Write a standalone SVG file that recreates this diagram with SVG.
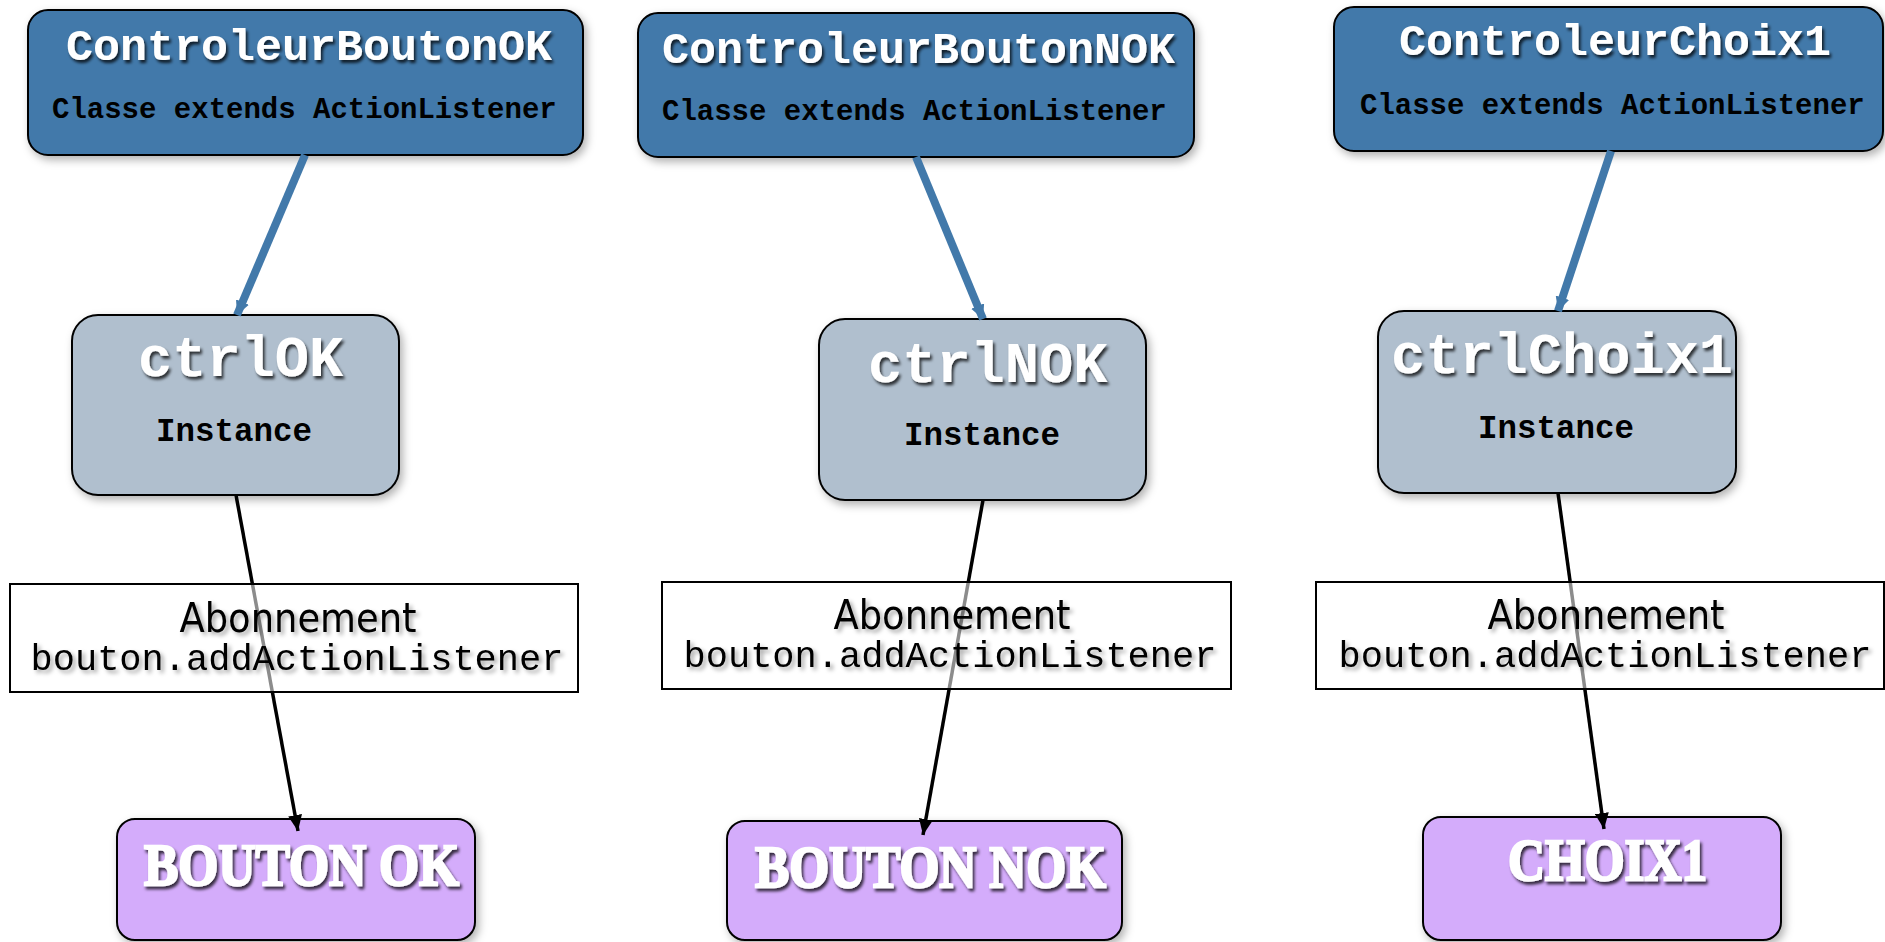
<svg xmlns="http://www.w3.org/2000/svg" width="1885" height="942" viewBox="0 0 1885 942">
  <defs>
    <filter id="boxShadow" x="-10%" y="-10%" width="125%" height="130%">
      <feDropShadow dx="3" dy="4" stdDeviation="4" flood-color="#000" flood-opacity="0.3"/>
    </filter>
    <filter id="titleShadow" x="-5%" y="-20%" width="115%" height="150%">
      <feDropShadow dx="2" dy="3" stdDeviation="1.6" flood-color="#000" flood-opacity="0.75"/>
    </filter>
    <filter id="labelShadow" x="-5%" y="-20%" width="115%" height="150%">
      <feDropShadow dx="3" dy="3" stdDeviation="2" flood-color="#000" flood-opacity="0.35"/>
    </filter>
    <marker id="headBlue" markerUnits="userSpaceOnUse" markerWidth="14" markerHeight="14" viewBox="0 0 14 14" refX="14" refY="7" orient="auto">
      <path d="M0,0 L14,7 L0,14 z" fill="#4279aa"/>
    </marker>
    <marker id="headBlack" markerUnits="userSpaceOnUse" markerWidth="16" markerHeight="14" viewBox="0 0 16 14" refX="16" refY="7" orient="auto">
      <path d="M0,0 L16,7 L0,14 z" fill="#000"/>
    </marker>
  </defs>
  <style>
    .cls { fill: #4279aa; stroke: #000; stroke-width: 2; filter: url(#boxShadow); }
    .inst { fill: #b0bfce; stroke: #000; stroke-width: 2; filter: url(#boxShadow); }
    .btn { fill: #d4acfb; stroke: #000; stroke-width: 2; filter: url(#boxShadow); }
    .lbl { fill: #fff; fill-opacity: 0.55; stroke: #000; stroke-width: 2; }
    .title { font-family: "Liberation Mono", "Courier New", monospace; font-weight: bold; fill: #fff; filter: url(#titleShadow); }
    .t45 { font-size: 45px; }
    .t57 { font-size: 57px; }
    .sub { font-family: "Liberation Mono", "Courier New", monospace; font-weight: bold; font-size: 29px; fill: #000; }
    .instTxt { font-family: "Liberation Mono", "Courier New", monospace; font-weight: bold; font-size: 32.5px; fill: #000; }
    .abo { font-family: "DejaVu Sans Condensed", "Liberation Sans", Arial, sans-serif; font-stretch: condensed; font-size: 41px; fill: #000; text-anchor: middle; filter: url(#labelShadow); }
    .code { font-family: "Liberation Mono", "Courier New", monospace; font-size: 37px; fill: #000; text-anchor: middle; filter: url(#labelShadow); }
    .stencil { font-family: "Liberation Serif", "Times New Roman", serif; font-weight: bold; font-size: 60px; fill: #fff; stroke: #fff; stroke-width: 2.5; stroke-linejoin: miter; filter: url(#titleShadow); }
    .assoc { stroke: #4279aa; stroke-width: 8; fill: none; marker-end: url(#headBlue); }
    .sub2 { stroke: #000; stroke-width: 3.5; fill: none; marker-end: url(#headBlack); }
  </style>

  <!-- classes -->
  <g id="ControleurBoutonOK">
    <rect class="cls" x="28" y="10" width="555" height="145" rx="20"/>
    <text class="title t45" x="66" y="60">ControleurBoutonOK</text>
    <text class="sub" x="52" y="118">Classe extends ActionListener</text>
  </g>
  <g id="ControleurBoutonNOK">
    <rect class="cls" x="638" y="13" width="556" height="144" rx="20"/>
    <text class="title t45" x="662" y="63">ControleurBoutonNOK</text>
    <text class="sub" x="662" y="120">Classe extends ActionListener</text>
  </g>
  <g id="ControleurChoix1">
    <rect class="cls" x="1334" y="7" width="549" height="144" rx="20"/>
    <text class="title t45" x="1399" y="55">ControleurChoix1</text>
    <text class="sub" x="1360" y="114">Classe extends ActionListener</text>
  </g>

  <!-- instances -->
  <g id="ctrlOK">
    <rect class="inst" x="72" y="315" width="327" height="180" rx="26"/>
    <text class="title t57" x="138" y="376">ctrlOK</text>
    <text class="instTxt" x="156" y="441">Instance</text>
  </g>
  <g id="ctrlNOK">
    <rect class="inst" x="819" y="319" width="327" height="181" rx="26"/>
    <text class="title t57" x="868" y="382">ctrlNOK</text>
    <text class="instTxt" x="904" y="445">Instance</text>
  </g>
  <g id="ctrlChoix1">
    <rect class="inst" x="1378" y="311" width="358" height="182" rx="26"/>
    <text class="title t57" x="1391" y="373">ctrlChoix1</text>
    <text class="instTxt" x="1478" y="438">Instance</text>
  </g>

  <!-- buttons -->
  <g id="boutonOK">
    <rect class="btn" x="117" y="819" width="358" height="121" rx="18"/>
    <text class="stencil" x="144" y="885" textLength="315" lengthAdjust="spacingAndGlyphs">BOUTON OK</text>
  </g>
  <g id="boutonNOK">
    <rect class="btn" x="727" y="821" width="395" height="119" rx="18"/>
    <text class="stencil" x="755" y="887" textLength="351" lengthAdjust="spacingAndGlyphs">BOUTON NOK</text>
  </g>
  <g id="choix1">
    <rect class="btn" x="1423" y="817" width="358" height="123" rx="18"/>
    <text class="stencil" x="1508" y="880" textLength="199" lengthAdjust="spacingAndGlyphs">CHOIX1</text>
  </g>

  <!-- connectors -->
  <g id="connectors">
    <line class="assoc" x1="305" y1="155" x2="237" y2="315"/>
    <line class="assoc" x1="916" y1="157" x2="983" y2="319"/>
    <line class="assoc" x1="1611" y1="151" x2="1558" y2="311"/>
    <line class="sub2" x1="236" y1="495" x2="298" y2="831"/>
    <line class="sub2" x1="983" y1="500" x2="923" y2="835"/>
    <line class="sub2" x1="1558" y1="493" x2="1604" y2="829"/>
  </g>

  <!-- subscription labels -->
  <g id="aboOK">
    <rect class="lbl" x="10" y="584" width="568" height="108"/>
    <text class="abo" x="298" y="632">Abonnement</text>
    <text class="code" x="297" y="670">bouton.addActionListener</text>
  </g>
  <g id="aboNOK">
    <rect class="lbl" x="662" y="582" width="569" height="107"/>
    <text class="abo" x="952" y="629">Abonnement</text>
    <text class="code" x="950" y="667">bouton.addActionListener</text>
  </g>
  <g id="aboChoix1">
    <rect class="lbl" x="1316" y="582" width="568" height="107"/>
    <text class="abo" x="1606" y="629">Abonnement</text>
    <text class="code" x="1605" y="667">bouton.addActionListener</text>
  </g>
</svg>
